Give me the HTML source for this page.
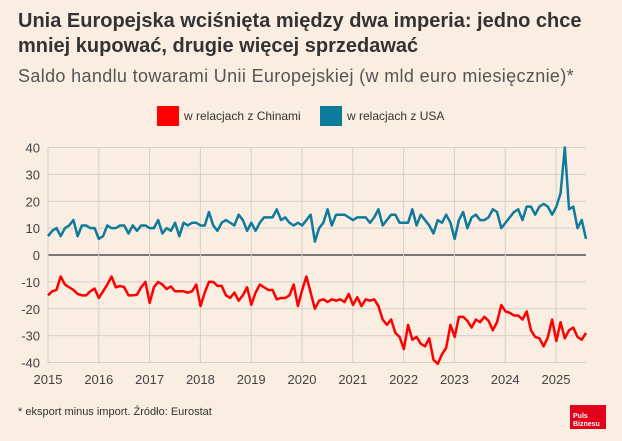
<!DOCTYPE html>
<html><head><meta charset="utf-8"><style>
body{margin:0;background:#faede1;font-family:"Liberation Sans",sans-serif;}
#w{position:relative;width:622px;height:441px;overflow:hidden;background:#faede1;}
.t{position:absolute;left:18px;top:9px;font-size:20px;font-weight:bold;color:#333;line-height:25px;width:585px;}
.s{position:absolute;left:18px;top:66px;font-size:18px;letter-spacing:0.35px;color:#555;white-space:nowrap;}
.lg{position:absolute;top:106px;font-size:12px;color:#333;display:flex;align-items:center;}
.sw{width:22px;height:20px;margin-right:5px;}
.f{position:absolute;left:18px;top:406px;font-size:11px;color:#333;}
.logo{position:absolute;left:570px;top:405px;width:36px;height:24px;background:#e3001b;color:#fff;font-size:7px;font-weight:bold;line-height:8px;padding:8px 0 0 3px;box-sizing:border-box;}
</style></head><body>
<div id="w">
<div class="t">Unia Europejska wciśnięta między dwa imperia: jedno chce mniej kupować, drugie więcej sprzedawać</div>
<div class="s">Saldo handlu towarami Unii Europejskiej (w mld euro miesięcznie)*</div>
<div class="lg" style="left:157px"><div class="sw" style="background:#ff0000"></div>w relacjach z Chinami</div>
<div class="lg" style="left:320px"><div class="sw" style="background:#0e7a9c"></div>w relacjach z USA</div>
<svg id="c" width="622" height="441" style="position:absolute;left:0;top:0"></svg>
<div class="f">* eksport minus import. Źródło: Eurostat</div>
<div class="logo">Puls<br>Biznesu</div>
</div>
<script>
const years=[2015,2016,2017,2018,2019,2020,2021,2022,2023,2024,2025];
const yTicks=[40,30,20,10,0,-10,-20,-30,-40];
const usa=[7,9,10,7,10,11,13,7,11,11,10,10,
6,7,11,10,10,11,11,8,11,9,11,11,
10,10,13,8,10,9,12,7,12,11,12,12,
11,11,16,11,9,12,13,12,11,15,13,9,
12,9,12,14,14,14,17,13,14,12,11,12,
11,13,15,5,10,12,17,11,15,15,15,14,
13,14,14,14,12,14,17,11,13,15,15,12,
12,12,17,11,15,13,11,8,13,12,15,12,
6,13,16,10,14,15,13,13,14,17,16,10,
12,14,16,17,13,18,18,15,18,19,18,15,
18,23,40,17,18,10,13,6];
const china=[-15,-13.5,-13,-8,-11,-12,-13,-14.5,-15,-15,-13.5,-12.5,
-16,-13.5,-11,-8,-12,-11.5,-12,-15,-15,-14.8,-12,-10,
-17.8,-12,-10,-11,-12.7,-11.7,-13.5,-13.5,-13.5,-14,-13.5,-11,
-19,-14,-10,-10,-11.5,-11.5,-15,-16,-14,-17,-15,-12,
-18.5,-14,-11,-12,-13,-13,-16.5,-16,-16,-15,-11,-19,
-13,-8,-14,-20,-17,-16.5,-17.5,-16.5,-17,-16.5,-17.5,-14.5,
-18.6,-15.7,-19,-16.5,-17,-16.5,-19,-24,-26,-24,-29,-30.5,
-35,-26,-31.5,-30.5,-33,-34,-31,-39,-40.5,-37,-34.5,-26,
-30.5,-23,-23,-24.5,-27,-24,-25,-23,-24.5,-28,-25,-18.6,
-21,-21.5,-22.5,-22.5,-24,-21,-28,-30.5,-31,-34,-30.5,-24,
-32,-25,-31,-28,-27,-30.5,-31.5,-29];
const NS='http://www.w3.org/2000/svg';
const svg=document.getElementById('c');
const X0=48,X1=586,Y0=255,K=2.6875;
const x=i=>X0+i*(X1-X0)/127;
const xy=yr=>X0+(yr-2015)*50.8;
const y=v=>Y0-v*K;
function mk(t,a){const e=document.createElementNS(NS,t);for(const k in a)e.setAttribute(k,a[k]);svg.appendChild(e);return e;}
yTicks.forEach(v=>{
 const l=mk('line',{x1:X0,x2:X1,y1:y(v),y2:y(v),stroke:v===0?'#777':'#d4d0cc','stroke-width':v===0?2:1});
 
 
 const t=mk('text',{x:40,y:y(v)+5,'text-anchor':'end','font-size':13,fill:'#444','font-family':'Liberation Sans,sans-serif'});
 t.textContent=v;
 
 
});
years.forEach(yr=>{
 const l=mk('line',{x1:xy(yr),x2:xy(yr),y1:y(40),y2:y(-40),stroke:'#d4d0cc','stroke-width':1});
 
 
 const t=mk('text',{x:xy(yr),y:384,'text-anchor':'middle','font-size':13,fill:'#444','font-family':'Liberation Sans,sans-serif'});
 t.textContent=yr;
 
 
});
function line(d,c,n){
 const p=mk('polyline',{points:d.map((v,i)=>x(i)+','+y(v)).join(' '),fill:'none',stroke:c,'stroke-width':2.5,'stroke-linejoin':'round'});
 
 
}
line(usa,'#0e7a9c','usa-line');
line(china,'#ff0000','china-line');
</script>
</body></html>
